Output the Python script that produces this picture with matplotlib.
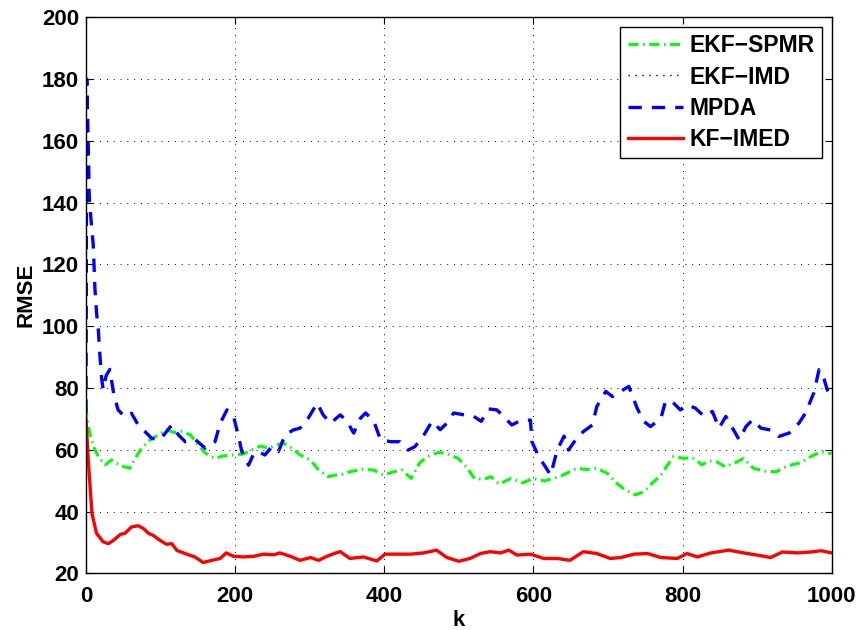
import numpy as np
import matplotlib.pyplot as plt

plt.rcParams['font.family'] = ['Liberation Sans', 'DejaVu Sans']
plt.rcParams['font.weight'] = 'bold'

# KF-IMED (red, solid)
kf_k = [0, 3, 8, 14, 23, 30, 37, 46, 52, 61, 70, 77, 84, 90, 99, 108, 115, 122, 135, 146,
        157, 169, 180, 188, 198, 211, 225, 238, 252, 260, 274, 287, 301, 312, 323, 334, 341,
        354, 372, 390, 401, 417, 435, 453, 470, 484, 500, 515, 529, 542, 556, 567, 578, 596,
        614, 632, 649, 667, 685, 703, 717, 735, 753, 771, 793, 806, 820, 838, 862, 882, 900,
        918, 934, 954, 972, 986, 1000]
kf_rmse = [70, 56.7, 39.4, 33, 30.2, 29.6, 30.7, 32.6, 32.9, 35, 35.4, 34.5, 32.9, 32.3, 30.7,
           29.4, 29.6, 27.4, 26.2, 25.3, 23.5, 24.2, 24.8, 26.6, 25.5, 25.3, 25.5, 26.2, 26,
           26.6, 25.5, 24.2, 25.1, 24.2, 25.5, 26.5, 27, 24.8, 25.3, 24, 26.2, 26.2, 26.2, 26.6,
           27.5, 25.1, 23.9, 24.8, 26.4, 27, 26.6, 27.5, 25.9, 26.2, 24.8, 24.8, 24.2, 27, 26.4,
           24.8, 25.1, 26.2, 26.4, 25.1, 24.8, 26.4, 25.3, 26.6, 27.5, 26.6, 25.9, 25.1, 26.9,
           26.6, 26.9, 27.3, 26.6]

# MPDA (blue, dashed)
mpda_k = [0, 1, 3, 4.5, 7.6, 9.8, 12, 14.3, 16.5, 18.8, 21, 23, 27, 32, 37, 43, 52, 61, 70, 77,
          88, 99, 106, 115, 124, 133, 146, 160, 173, 180, 189, 198, 204, 209, 218, 225, 231,
          240, 249, 258, 267, 278, 287, 298, 310, 318, 328, 341, 350, 359, 368, 375, 386, 395,
          409, 421, 432, 441, 452, 464, 475, 484, 493, 507, 520, 530, 540, 551, 560, 571, 582,
          596, 598, 607, 616, 623, 632, 641, 647, 658, 667, 679, 685, 697, 706, 717, 728, 739,
          748, 757, 771, 777, 786, 797, 806, 817, 829, 840, 849, 858, 867, 876, 885, 894, 905,
          918, 929, 943, 956, 965, 976, 983, 990, 998]
mpda_rmse = [72, 180, 159, 141, 132, 126, 112, 104, 99, 90, 83, 79.5, 84, 86, 78.3, 72.9, 70.7,
             71.8, 68, 66.4, 63.7, 63.2, 65.3, 68, 64.8, 62.6, 63.4, 60.5, 62.6, 68.6, 72.9,
             70.7, 64.8, 59.4, 55, 58.8, 59.4, 58.3, 61, 59.4, 64.8, 66.4, 67, 70.2, 75.1, 71.3,
             68.6, 71.3, 69.2, 65.4, 70.2, 71.9, 69.2, 63.2, 62.6, 62.6, 59.9, 61, 64.3, 69.2,
             66.5, 68.6, 71.9, 71.3, 70.8, 69.2, 73.2, 72.9, 70.8, 68, 69.4, 69.6, 62.6, 57.8,
             54.5, 51.8, 59.9, 64.4, 59.9, 63.7, 65.9, 68, 74, 78.9, 77.2, 78.9, 80.5, 73.5,
             69.2, 67.5, 70.2, 75.6, 75.6, 72.9, 74.5, 73.5, 70.8, 72.4, 67, 70.8, 67, 63.2,
             67.5, 69.7, 67, 66.4, 64.3, 65.4, 68.6, 71.9, 78.4, 85.9, 82.7, 76.2]

# EKF-SPMR (green, dash-dot)
spmr_k = [0, 1, 5, 10, 16.5, 25.5, 34.5, 41, 50, 59, 66, 74.5, 86, 97, 108, 119, 128, 140, 149,
          160, 173, 184, 198, 211, 222, 234, 245, 256, 265, 276, 287, 301, 312, 325, 334, 341,
          354, 372, 386, 399, 413, 424, 436, 447, 458, 472, 483, 499, 510, 521, 534, 543, 554,
          570, 586, 599, 615, 637, 658, 671, 685, 699, 712, 723, 737, 748, 759, 771, 780, 788,
          802, 813, 826, 835, 846, 857, 869, 882, 895, 913, 926, 940, 958, 972, 986, 995, 1000]
spmr_rmse = [74, 70.8, 65.4, 61, 57.8, 55.1, 56.7, 55.6, 54.6, 54, 57.2, 60.5, 63.2, 64.8, 66.4,
             65.6, 65.9, 64.8, 62.1, 58.9, 57.2, 58, 58.3, 58.6, 59.9, 61.2, 60.5, 61.6, 62.1,
             60.5, 58.3, 56.7, 53.4, 51.3, 51.8, 51.8, 52.9, 53.7, 53.4, 51.8, 52.9, 53.4, 50.7,
             55.6, 57.8, 59.1, 58.9, 57.2, 54.5, 50.7, 50.4, 51.3, 48.9, 50.7, 49.3, 50.7, 49.9,
             51.5, 54, 53.6, 54, 52.4, 49.1, 47, 45.4, 46.4, 49.1, 51.8, 55.1, 57.8, 57.2, 57.5,
             55.1, 56.4, 56.1, 54.5, 55.6, 57.2, 54, 52.9, 52.9, 54.7, 55.8, 57.8, 59.4, 58.7, 59]

# EKF-IMD (black, dotted) - not visible in the plot area
imd_k = []
imd_rmse = []

fig = plt.figure(figsize=(8.61, 6.3), dpi=100)
ax = fig.add_axes([86/861, (630-573.3)/630, (831.7-86)/861, (573.3-17.3)/630])

ax.plot(spmr_k, spmr_rmse, color='#00ff00', lw=2.2, dashes=(3.3, 1.5, 0.5, 1.5), label='EKF\u2212SPMR')
ax.plot(imd_k, imd_rmse, color='black', lw=1.0, dashes=(1, 4), label='EKF\u2212IMD')
ax.plot(mpda_k, mpda_rmse, color='#0000ff', lw=2.4, dashes=(4.0, 3.0), label='MPDA')
ax.plot(kf_k, kf_rmse, color='#ff0000', lw=2.4, label='KF\u2212IMED')

ax.set_xlim(0, 1000)
ax.set_ylim(20, 200)
ax.set_xticks(np.arange(0, 1001, 200))
ax.set_yticks(np.arange(20, 201, 20))
ax.grid(True, color='black', lw=0.7, dashes=(1, 6))
ax.tick_params(direction='in', length=5, width=0.8, top=True, right=True, labelsize=16)
ax.tick_params(axis='x', pad=9)
ax.tick_params(axis='y', pad=5)
for s in ax.spines.values():
    s.set_linewidth(1.0)

ax.set_xlabel('k', fontsize=16, fontweight='bold', labelpad=2)
ax.set_ylabel('RMSE', fontsize=16, fontweight='bold', labelpad=4)

leg = ax.legend(loc='upper right', fontsize=16.5, handlelength=2.4, handletextpad=0.3,
                labelspacing=0.36, borderpad=0.32, borderaxespad=0.42, fancybox=False,
                framealpha=1, edgecolor='black')
leg.get_frame().set_linewidth(1.0)
for t in leg.get_texts():
    t.set_fontweight('bold')

fig.savefig('out.png', dpi=100)
